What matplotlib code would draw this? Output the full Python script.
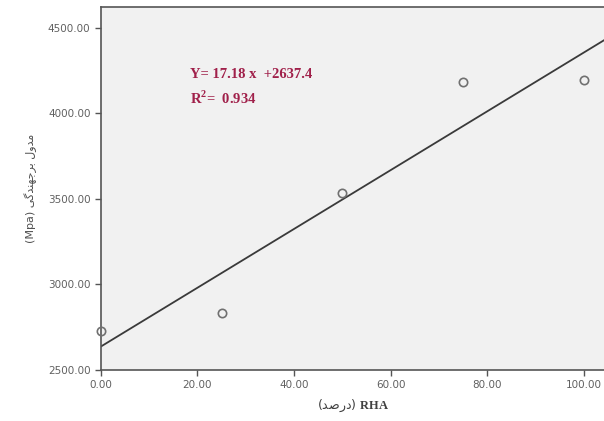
import numpy as np
import matplotlib.pyplot as plt

plt.rcParams['mathtext.fontset'] = 'custom'
plt.rcParams['mathtext.bf'] = 'Liberation Serif:bold'
plt.rcParams['mathtext.rm'] = 'Liberation Serif:bold'

## DATA
rha = [0, 25, 50, 75, 100]                  # RHA percent
modulus = [2726, 2836, 3532, 4181, 4193]    # resilient modulus (Mpa)
slope, intercept = 17.18, 2637.4
r2 = 0.934
xticks = [0, 20, 40, 60, 80, 100]
yticks = [2500, 3000, 3500, 4000, 4500]

# persian words, pre-shaped in visual (left to right) order
w_darsad = "\uFEAA\uFEBB\uFEAD\uFEA9"                                   # درصد
w_modul = "\uFEDD\uFEED\uFEAA\uFEE3"                                    # مدول
w_barjahandegi = "\uFBFD\uFB94\uFEAA\uFEE8\uFEEC\uFE9F\uFEAE\uFE91"     # برجهندگی

## FIGURE
fig = plt.figure(figsize=(6.04, 4.21), dpi=100)
fig.patch.set_facecolor('white')
ax = fig.add_axes([0.167, 0.121, 0.835, 0.862])
ax.set_facecolor('#f1f1f1')

ax.set_xlim(0, 104.4)
ax.set_ylim(2500, 4620)

# fit line
xl = np.array(ax.get_xlim())
ax.plot(xl, slope * xl + intercept, color='#3a3a3a', lw=1.3, zorder=2)

# points
ax.plot(rha, modulus, linestyle='', marker='o', markersize=6,
        markerfacecolor='none', markeredgecolor='#707070', mew=1.2,
        zorder=3, clip_on=False)

ax.text(0.177, 0.805, "Y= %.2f x  +%.1f" % (slope, intercept),
        transform=ax.transAxes, color='#a0204a', fontsize=10.5,
        family='Liberation Serif', fontweight='bold')
ax.text(0.177, 0.733, "R$^2$=  %.3f" % r2,
        transform=ax.transAxes, color='#a0204a', fontsize=10.5,
        family='Liberation Serif', fontweight='bold')

ax.set_xticks(xticks)
ax.set_xticklabels(["%.2f" % v for v in xticks])
ax.set_yticks(yticks)
ax.set_yticklabels(["%.2f" % v for v in yticks])
ax.tick_params(labelsize=7.5, labelcolor='#606060', color='#555555',
               length=4, width=1)

for s in ['left', 'bottom', 'top']:
    ax.spines[s].set_color('#555555')
    ax.spines[s].set_linewidth(1.2)
ax.spines['right'].set_visible(False)

ax.set_xlabel("(" + w_darsad + ") " + r"$\mathbf{RHA}$", fontsize=9,
              color='#404040', family=['DejaVu Sans'], labelpad=5)
ax.set_ylabel("(Mpa) " + w_barjahandegi + " " + w_modul, fontsize=8,
              color='#505050', family=['DejaVu Sans'], labelpad=8)

fig.savefig('out.png', dpi=100)
